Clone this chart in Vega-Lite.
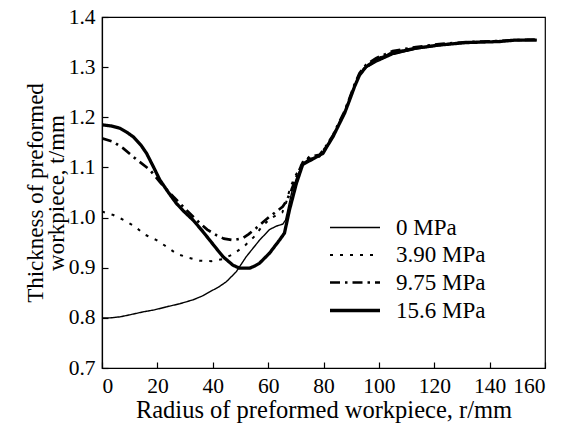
{
  "$schema": "https://vega.github.io/schema/vega-lite/v6.json",
  "width": 443,
  "height": 351,
  "autosize": "none",
  "padding": {"left": 102, "top": 17, "right": 19, "bottom": 57},
  "background": "white",
  "config": {
    "view": {"stroke": "black", "strokeWidth": 1.2},
    "font": "Liberation Serif",
    "axis": {
      "domainColor": "black",
      "tickColor": "black",
      "labelColor": "black",
      "titleColor": "black",
      "grid": false,
      "labelFont": "Liberation Serif",
      "titleFont": "Liberation Serif",
      "labelFontSize": 21.5,
      "titleFontSize": 23.5,
      "titleFontWeight": "normal",
      "tickSize": -6,
      "domainWidth": 1.2,
      "tickWidth": 1.2
    },
    "legend": {
      "labelFont": "Liberation Serif",
      "labelFontSize": 23,
      "labelColor": "black",
      "padding": 0
    }
  },
  "data": {
    "values": [
      {"p": "0 MPa", "r": 0, "t": 0.800},
      {"p": "0 MPa", "r": 3, "t": 0.800},
      {"p": "0 MPa", "r": 6.5, "t": 0.802},
      {"p": "0 MPa", "r": 10, "t": 0.806},
      {"p": "0 MPa", "r": 14.9, "t": 0.812},
      {"p": "0 MPa", "r": 19, "t": 0.816},
      {"p": "0 MPa", "r": 23.3, "t": 0.822},
      {"p": "0 MPa", "r": 28, "t": 0.828},
      {"p": "0 MPa", "r": 32.9, "t": 0.836},
      {"p": "0 MPa", "r": 36, "t": 0.843},
      {"p": "0 MPa", "r": 38.9, "t": 0.852},
      {"p": "0 MPa", "r": 42, "t": 0.861},
      {"p": "0 MPa", "r": 44.9, "t": 0.872},
      {"p": "0 MPa", "r": 48.5, "t": 0.892},
      {"p": "0 MPa", "r": 52.1, "t": 0.922},
      {"p": "0 MPa", "r": 56.9, "t": 0.955},
      {"p": "0 MPa", "r": 60.5, "t": 0.976},
      {"p": "0 MPa", "r": 63, "t": 0.983},
      {"p": "0 MPa", "r": 65.3, "t": 0.987},
      {"p": "0 MPa", "r": 66.3, "t": 0.995},
      {"p": "0 MPa", "r": 67.1, "t": 1.015},
      {"p": "0 MPa", "r": 68.5, "t": 1.050},
      {"p": "0 MPa", "r": 70.2, "t": 1.078},
      {"p": "0 MPa", "r": 72.5, "t": 1.108},
      {"p": "0 MPa", "r": 75, "t": 1.118},
      {"p": "0 MPa", "r": 78.6, "t": 1.121},
      {"p": "0 MPa", "r": 81, "t": 1.141},
      {"p": "0 MPa", "r": 83.4, "t": 1.161},
      {"p": "0 MPa", "r": 85.8, "t": 1.188},
      {"p": "0 MPa", "r": 87.6, "t": 1.208},
      {"p": "0 MPa", "r": 89.4, "t": 1.234},
      {"p": "0 MPa", "r": 91.2, "t": 1.261},
      {"p": "0 MPa", "r": 93, "t": 1.284},
      {"p": "0 MPa", "r": 95.4, "t": 1.299},
      {"p": "0 MPa", "r": 99, "t": 1.310},
      {"p": "0 MPa", "r": 105, "t": 1.325},
      {"p": "0 MPa", "r": 113.4, "t": 1.336},
      {"p": "0 MPa", "r": 121.8, "t": 1.343},
      {"p": "0 MPa", "r": 131.4, "t": 1.348},
      {"p": "0 MPa", "r": 143.4, "t": 1.351},
      {"p": "0 MPa", "r": 149.4, "t": 1.353},
      {"p": "0 MPa", "r": 157, "t": 1.354},

      {"p": "3.90 MPa", "r": 0, "t": 1.012},
      {"p": "3.90 MPa", "r": 4.1, "t": 1.005},
      {"p": "3.90 MPa", "r": 8.3, "t": 0.994},
      {"p": "3.90 MPa", "r": 11.9, "t": 0.982},
      {"p": "3.90 MPa", "r": 15.5, "t": 0.966},
      {"p": "3.90 MPa", "r": 19.7, "t": 0.955},
      {"p": "3.90 MPa", "r": 23.3, "t": 0.942},
      {"p": "3.90 MPa", "r": 26.9, "t": 0.928},
      {"p": "3.90 MPa", "r": 31.1, "t": 0.920},
      {"p": "3.90 MPa", "r": 35.3, "t": 0.914},
      {"p": "3.90 MPa", "r": 39.5, "t": 0.913},
      {"p": "3.90 MPa", "r": 43.5, "t": 0.917},
      {"p": "3.90 MPa", "r": 47.3, "t": 0.927},
      {"p": "3.90 MPa", "r": 51.2, "t": 0.942},
      {"p": "3.90 MPa", "r": 54.8, "t": 0.961},
      {"p": "3.90 MPa", "r": 57.5, "t": 0.980},
      {"p": "3.90 MPa", "r": 60.5, "t": 0.997},
      {"p": "3.90 MPa", "r": 63, "t": 1.005},
      {"p": "3.90 MPa", "r": 65.1, "t": 1.010},
      {"p": "3.90 MPa", "r": 66.5, "t": 1.030},
      {"p": "3.90 MPa", "r": 68, "t": 1.060},
      {"p": "3.90 MPa", "r": 70, "t": 1.085},
      {"p": "3.90 MPa", "r": 72.5, "t": 1.110},
      {"p": "3.90 MPa", "r": 75, "t": 1.120},
      {"p": "3.90 MPa", "r": 78.6, "t": 1.124},
      {"p": "3.90 MPa", "r": 81, "t": 1.143},
      {"p": "3.90 MPa", "r": 83.4, "t": 1.163},
      {"p": "3.90 MPa", "r": 85.8, "t": 1.190},
      {"p": "3.90 MPa", "r": 87.6, "t": 1.210},
      {"p": "3.90 MPa", "r": 89.4, "t": 1.236},
      {"p": "3.90 MPa", "r": 91.2, "t": 1.263},
      {"p": "3.90 MPa", "r": 93, "t": 1.286},
      {"p": "3.90 MPa", "r": 95.4, "t": 1.303},
      {"p": "3.90 MPa", "r": 99, "t": 1.316},
      {"p": "3.90 MPa", "r": 105, "t": 1.330},
      {"p": "3.90 MPa", "r": 113.4, "t": 1.339},
      {"p": "3.90 MPa", "r": 121.8, "t": 1.345},
      {"p": "3.90 MPa", "r": 131.4, "t": 1.349},
      {"p": "3.90 MPa", "r": 143.4, "t": 1.352},
      {"p": "3.90 MPa", "r": 149.4, "t": 1.354},
      {"p": "3.90 MPa", "r": 157, "t": 1.355},

      {"p": "9.75 MPa", "r": 0, "t": 1.158},
      {"p": "9.75 MPa", "r": 4.1, "t": 1.151},
      {"p": "9.75 MPa", "r": 7.7, "t": 1.138},
      {"p": "9.75 MPa", "r": 12, "t": 1.118},
      {"p": "9.75 MPa", "r": 17.3, "t": 1.095},
      {"p": "9.75 MPa", "r": 21, "t": 1.070},
      {"p": "9.75 MPa", "r": 25.7, "t": 1.042},
      {"p": "9.75 MPa", "r": 30.5, "t": 1.015},
      {"p": "9.75 MPa", "r": 35.3, "t": 0.989},
      {"p": "9.75 MPa", "r": 38, "t": 0.976},
      {"p": "9.75 MPa", "r": 41.3, "t": 0.965},
      {"p": "9.75 MPa", "r": 44, "t": 0.958},
      {"p": "9.75 MPa", "r": 47.3, "t": 0.955},
      {"p": "9.75 MPa", "r": 50.9, "t": 0.959},
      {"p": "9.75 MPa", "r": 53, "t": 0.967},
      {"p": "9.75 MPa", "r": 55.7, "t": 0.979},
      {"p": "9.75 MPa", "r": 58, "t": 0.990},
      {"p": "9.75 MPa", "r": 60.5, "t": 1.002},
      {"p": "9.75 MPa", "r": 63, "t": 1.012},
      {"p": "9.75 MPa", "r": 65.3, "t": 1.022},
      {"p": "9.75 MPa", "r": 66.8, "t": 1.035},
      {"p": "9.75 MPa", "r": 68.4, "t": 1.055},
      {"p": "9.75 MPa", "r": 70.5, "t": 1.085},
      {"p": "9.75 MPa", "r": 72.5, "t": 1.110},
      {"p": "9.75 MPa", "r": 75, "t": 1.121},
      {"p": "9.75 MPa", "r": 78.6, "t": 1.125},
      {"p": "9.75 MPa", "r": 81, "t": 1.143},
      {"p": "9.75 MPa", "r": 83.4, "t": 1.164},
      {"p": "9.75 MPa", "r": 85.8, "t": 1.192},
      {"p": "9.75 MPa", "r": 87.6, "t": 1.212},
      {"p": "9.75 MPa", "r": 89.4, "t": 1.238},
      {"p": "9.75 MPa", "r": 91.2, "t": 1.265},
      {"p": "9.75 MPa", "r": 93, "t": 1.288},
      {"p": "9.75 MPa", "r": 95.4, "t": 1.305},
      {"p": "9.75 MPa", "r": 99, "t": 1.318},
      {"p": "9.75 MPa", "r": 105, "t": 1.332},
      {"p": "9.75 MPa", "r": 113.4, "t": 1.340},
      {"p": "9.75 MPa", "r": 121.8, "t": 1.346},
      {"p": "9.75 MPa", "r": 131.4, "t": 1.350},
      {"p": "9.75 MPa", "r": 143.4, "t": 1.352},
      {"p": "9.75 MPa", "r": 149.4, "t": 1.354},
      {"p": "9.75 MPa", "r": 157, "t": 1.355},

      {"p": "15.6 MPa", "r": 0, "t": 1.185},
      {"p": "15.6 MPa", "r": 3, "t": 1.183},
      {"p": "15.6 MPa", "r": 6.5, "t": 1.178},
      {"p": "15.6 MPa", "r": 9, "t": 1.170},
      {"p": "15.6 MPa", "r": 11.3, "t": 1.161},
      {"p": "15.6 MPa", "r": 14, "t": 1.145},
      {"p": "15.6 MPa", "r": 16.1, "t": 1.128},
      {"p": "15.6 MPa", "r": 18.5, "t": 1.102},
      {"p": "15.6 MPa", "r": 20.9, "t": 1.075},
      {"p": "15.6 MPa", "r": 24, "t": 1.050},
      {"p": "15.6 MPa", "r": 26.9, "t": 1.028},
      {"p": "15.6 MPa", "r": 30, "t": 1.010},
      {"p": "15.6 MPa", "r": 32.9, "t": 0.995},
      {"p": "15.6 MPa", "r": 36, "t": 0.975},
      {"p": "15.6 MPa", "r": 38.9, "t": 0.955},
      {"p": "15.6 MPa", "r": 41.5, "t": 0.937},
      {"p": "15.6 MPa", "r": 43.7, "t": 0.922},
      {"p": "15.6 MPa", "r": 47.3, "t": 0.905},
      {"p": "15.6 MPa", "r": 49.7, "t": 0.899},
      {"p": "15.6 MPa", "r": 53.3, "t": 0.899},
      {"p": "15.6 MPa", "r": 55, "t": 0.903},
      {"p": "15.6 MPa", "r": 56.9, "t": 0.909},
      {"p": "15.6 MPa", "r": 60.5, "t": 0.929},
      {"p": "15.6 MPa", "r": 64.1, "t": 0.955},
      {"p": "15.6 MPa", "r": 65.9, "t": 0.969},
      {"p": "15.6 MPa", "r": 67.7, "t": 1.015},
      {"p": "15.6 MPa", "r": 70.2, "t": 1.068},
      {"p": "15.6 MPa", "r": 72.5, "t": 1.106},
      {"p": "15.6 MPa", "r": 76.2, "t": 1.117},
      {"p": "15.6 MPa", "r": 79.8, "t": 1.128},
      {"p": "15.6 MPa", "r": 81.5, "t": 1.144},
      {"p": "15.6 MPa", "r": 83.4, "t": 1.161},
      {"p": "15.6 MPa", "r": 85.8, "t": 1.188},
      {"p": "15.6 MPa", "r": 87.6, "t": 1.208},
      {"p": "15.6 MPa", "r": 89.4, "t": 1.234},
      {"p": "15.6 MPa", "r": 91.2, "t": 1.261},
      {"p": "15.6 MPa", "r": 93, "t": 1.284},
      {"p": "15.6 MPa", "r": 95.4, "t": 1.301},
      {"p": "15.6 MPa", "r": 99, "t": 1.314},
      {"p": "15.6 MPa", "r": 105, "t": 1.328},
      {"p": "15.6 MPa", "r": 113.4, "t": 1.338},
      {"p": "15.6 MPa", "r": 121.8, "t": 1.344},
      {"p": "15.6 MPa", "r": 131.4, "t": 1.349},
      {"p": "15.6 MPa", "r": 143.4, "t": 1.351},
      {"p": "15.6 MPa", "r": 149.4, "t": 1.354},
      {"p": "15.6 MPa", "r": 157, "t": 1.354}
    ]
  },
  "mark": {"type": "line", "color": "black", "clip": true},
  "encoding": {
    "x": {
      "field": "r", "type": "quantitative",
      "scale": {"domain": [0, 160], "nice": false},
      "axis": {"values": [0, 20, 40, 60, 80, 100, 120, 140, 160], "title": "Radius of preformed workpiece, r/mm", "titleFontSize": 24.5, "labelPadding": 13, "titlePadding": 2}
    },
    "y": {
      "field": "t", "type": "quantitative",
      "scale": {"domain": [0.7, 1.4], "nice": false, "zero": false},
      "axis": {"values": [0.7, 0.8, 0.9, 1.0, 1.1, 1.2, 1.3, 1.4], "format": ".1f", "title": ["Thickness of preformed", "workpiece, t/mm"], "titleFontSize": 23, "labelPadding": 13, "titlePadding": 0, "titleLineHeight": 21}
    },
    "strokeDash": {
      "field": "p", "type": "nominal",
      "scale": {"domain": ["0 MPa", "3.90 MPa", "9.75 MPa", "15.6 MPa"], "range": [[1, 0], [3, 7], [10, 5, 2.5, 5], [1, 0]]},
      "legend": {"title": null, "orient": "none", "legendX": 226, "legendY": 199, "symbolType": "M-1,0H4", "symbolSize": 400, "symbolStrokeColor": "black", "symbolFillColor": "transparent", "rowPadding": 3.5, "labelOffset": 44}
    },
    "strokeWidth": {
      "field": "p", "type": "nominal",
      "scale": {"domain": ["0 MPa", "3.90 MPa", "9.75 MPa", "15.6 MPa"], "range": [1.4, 3.3, 2.2, 2.7]},
      "legend": {"title": null}
    }
  }
}
